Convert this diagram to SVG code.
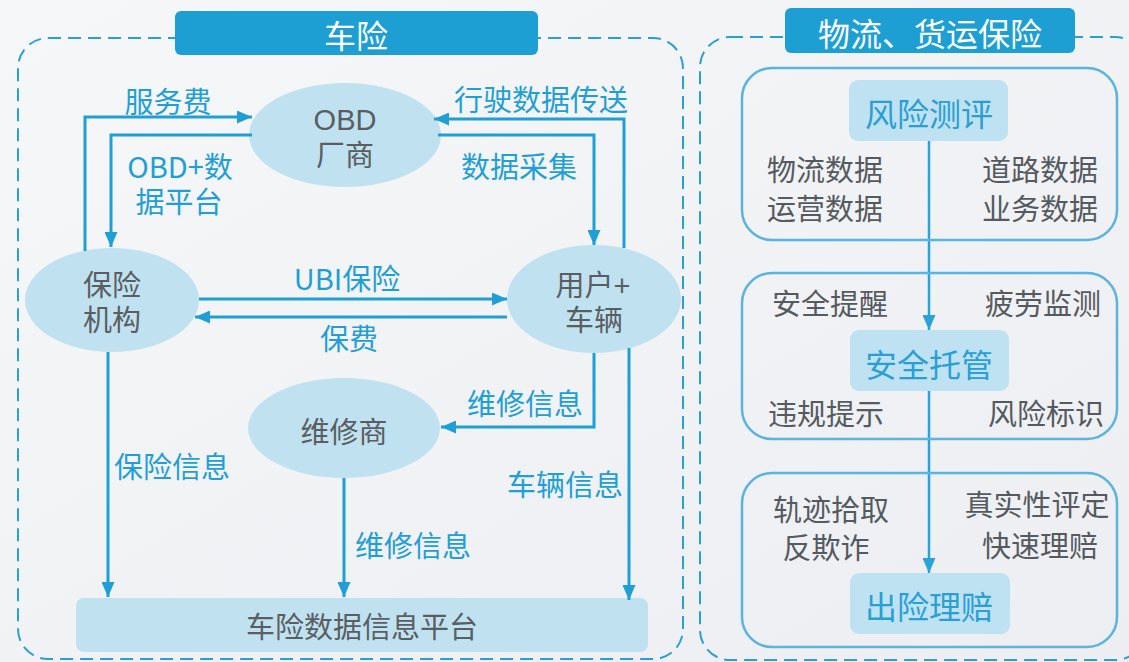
<svg xmlns="http://www.w3.org/2000/svg" width="1129" height="662" viewBox="0 0 1129 662">
<defs>
<linearGradient id="bg" x1="0" y1="0" x2="1" y2="1">
<stop offset="0" stop-color="#f6f7f9"/>
<stop offset="1" stop-color="#eceef1"/>
</linearGradient>
<marker id="ah" viewBox="0 0 15 13" refX="15" refY="6.5" markerWidth="15" markerHeight="13" markerUnits="userSpaceOnUse" orient="auto">
<path d="M0,0 L15,6.5 L0,13 z" fill="#1f9fd5"/>
</marker>
<marker id="ah2" viewBox="0 0 15 13" refX="15" refY="6.5" markerWidth="15" markerHeight="13" markerUnits="userSpaceOnUse" orient="auto">
<path d="M0,0 L15,6.5 L0,13 z" fill="#2aa3d8"/>
</marker>
</defs>
<style>
text{font-family:"Noto Sans CJK SC","Noto Sans",sans-serif;dominant-baseline:central;text-anchor:middle}
text.ml{font-family:"Liberation Sans","Noto Sans CJK SC",sans-serif}
.dash{fill:none;stroke:#2a9fd6;stroke-width:2;stroke-dasharray:13 7}
.title{fill:#1e9fd4}
.tt{fill:#ffffff;font-size:32px}
.ell{fill:#c0e2f0}
.nt{fill:#5a5e63;font-size:29px}
.lb{fill:#1f9fd5;font-size:29px}
.conn{fill:none;stroke:#1f9fd5;stroke-width:3;marker-end:url(#ah)}
.box{fill:none;stroke:#5ab4de;stroke-width:2.5}
.pill{fill:#bee2f1}
.pt{fill:#2a9fd6;font-size:32px}
.gt{fill:#555a60;font-size:29px}
.vconn{fill:none;stroke:#2aa3d8;stroke-width:2.5;marker-end:url(#ah2)}
</style>
<rect width="1129" height="662" fill="url(#bg)"/>

<g id="car-insurance-frame">
<rect class="dash" x="18" y="38" width="665" height="621" rx="30"/>
<rect class="title" x="175" y="11" width="363" height="44" rx="6"/>
<text class="tt" x="356" y="34">车险</text>
</g>

<g id="logistics-frame">
<rect class="dash" x="700" y="37" width="445" height="623" rx="30"/>
<rect class="title" x="785" y="8" width="290" height="45" rx="6"/>
<text class="tt" x="930" y="32">物流、货运保险</text>
</g>

<g id="obd">
<ellipse class="ell" cx="345" cy="135" rx="96" ry="52"/>
<text class="nt ml" x="345" y="120">OBD</text>
<text class="nt ml" x="345" y="156">厂商</text>
</g>
<g id="insurer">
<ellipse class="ell" cx="112" cy="300" rx="87" ry="52"/>
<text class="nt ml" x="112" y="286">保险</text>
<text class="nt ml" x="112" y="321">机构</text>
</g>
<g id="user-vehicle">
<ellipse class="ell" cx="594" cy="299" rx="87" ry="54"/>
<text class="nt ml" x="593" y="286">用户+</text>
<text class="nt ml" x="594" y="321">车辆</text>
</g>
<g id="repair">
<ellipse class="ell" cx="344" cy="428" rx="96" ry="50"/>
<text class="nt" x="344" y="430">维修商</text>
</g>
<g id="platform">
<rect class="ell" x="76" y="598" width="572" height="54" rx="8"/>
<text class="nt" x="362" y="625">车险数据信息平台</text>
</g>

<g id="connectors">
<path class="conn" d="M85,251 V117 H252"/>
<path class="conn" d="M252,135 H111 V247"/>
<path class="conn" d="M624,248 V119 H434"/>
<path class="conn" d="M438,135 H594 V245"/>
<path class="conn" d="M199,299 H507"/>
<path class="conn" d="M507,317 H195"/>
<path class="conn" d="M594,353 V427 H441"/>
<path class="conn" d="M108,352 V597"/>
<path class="conn" d="M344,478 V597"/>
<path class="conn" d="M629,348 V600"/>
<path class="vconn" d="M929,141 V330"/>
<path class="vconn" d="M929,391 V573"/>
</g>

<g id="connector-labels">
<text class="lb" x="168" y="100">服务费</text>
<text class="lb" x="180" y="165">OBD+数</text>
<text class="lb ml" x="179" y="203">据平台</text>
<text class="lb" x="541" y="98">行驶数据传送</text>
<text class="lb" x="519" y="165">数据采集</text>
<text class="lb" x="347" y="277">UBI保险</text>
<text class="lb" x="349" y="337">保费</text>
<text class="lb" x="525" y="402">维修信息</text>
<text class="lb" x="172" y="465">保险信息</text>
<text class="lb" x="413" y="544">维修信息</text>
<text class="lb" x="565" y="483">车辆信息</text>
</g>

<g id="risk-box">
<rect class="box" x="742" y="68" width="375" height="172" rx="30"/>
<text class="gt ml" x="825" y="171">物流数据</text>
<text class="gt ml" x="825" y="210">运营数据</text>
<text class="gt ml" x="1040" y="171">道路数据</text>
<text class="gt ml" x="1040" y="210">业务数据</text>
</g>
<g id="risk-eval">
<rect class="pill" x="849" y="80" width="159" height="61" rx="9"/>
<text class="pt" x="929" y="112">风险测评</text>
</g>

<g id="safety-box">
<rect class="box" x="742" y="273" width="375" height="166" rx="30"/>
<text class="gt" x="830" y="302">安全提醒</text>
<text class="gt" x="1043" y="302">疲劳监测</text>
<text class="gt" x="826" y="412">违规提示</text>
<text class="gt" x="1046" y="412">风险标识</text>
</g>
<g id="safety-custody">
<rect class="pill" x="850" y="330" width="159" height="61" rx="9"/>
<text class="pt" x="929" y="363">安全托管</text>
</g>

<g id="claims-box">
<rect class="box" x="742" y="473" width="375" height="174" rx="30"/>
<text class="gt ml" x="831" y="511">轨迹拾取</text>
<text class="gt ml" x="826" y="549">反欺诈</text>
<text class="gt ml" x="1037" y="506">真实性评定</text>
<text class="gt ml" x="1040" y="547">快速理赔</text>
</g>
<g id="claims">
<rect class="pill" x="850" y="573" width="160" height="61" rx="9"/>
<text class="pt" x="929" y="605">出险理赔</text>
</g>
</svg>
